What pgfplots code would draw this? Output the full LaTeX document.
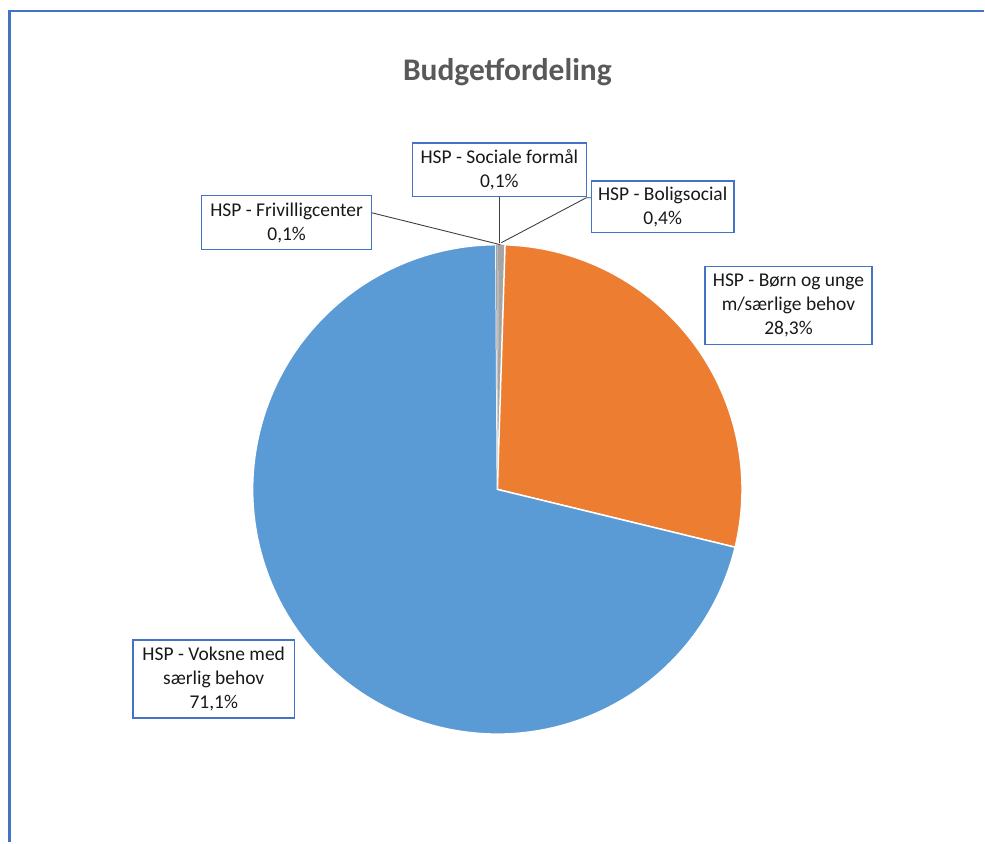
\documentclass[border=0pt]{standalone}
\usepackage{fontspec}
\setmainfont{Carlito}
\usepackage{pgfplots}
\pgfplotsset{compat=1.18}
\usepackage{pgfplotstable}

\definecolor{xlblue}{HTML}{5B9BD5}
\definecolor{xlorange}{HTML}{ED7D31}
\definecolor{xlgray}{HTML}{A5A5A5}
\definecolor{xlframe}{HTML}{4472C4}
\definecolor{titlegray}{HTML}{595959}

% share in percent, clockwise from 12 o'clock
\pgfplotstableread[col sep=comma]{
name,share,colour
Sociale,0.1,xlgray
Boligsocial,0.4,xlgray
Boern,28.3,xlorange
Voksne,71.1,xlblue
Frivillig,0.1,xlgray
}\piedata

\tikzset{lbl/.style={draw=xlframe, line width=1.5bp, fill=white, align=center,
  inner sep=0pt, font=\fontsize{19.5bp}{24bp}\selectfont, text=black!90},
  lead/.style={black!75, line width=0.9bp}}

\begin{document}
\begin{tikzpicture}
\begin{axis}[
  scale only axis, width=985bp, height=843bp,
  xmin=0, xmax=985, ymin=0, ymax=843,
  hide axis, clip=false,
]
% keep the page at the full chart size
\path (axis cs:0,0) rectangle (axis cs:985,843);
\pgfplotsextra{
  \def\angA{90}
  \pgfplotstableforeachcolumnelement{share}\of\piedata\as\share{%
    \pgfplotstablegetelem{\pgfplotstablerow}{colour}\of\piedata
    \let\slicecol\pgfplotsretval
    \pgfmathsetmacro\angB{\angA-3.6*\share}
    \fill[\slicecol] (axis cs:498,353) -- ++(\angA:245bp)
      arc[start angle=\angA, end angle=\angB, radius=245bp] -- cycle;
    \pgfmathparse{\share>1 ? 1 : 0}
    \ifnum\pgfmathresult=1
      \draw[white, line width=1.5bp, line join=round] (axis cs:498,353) -- ++(\angA:245bp)
        arc[start angle=\angA, end angle=\angB, radius=245bp] -- cycle;
    \fi
    \global\let\angA\angB
  }
}
% frame of the chart area
\draw[xlframe, line width=2.5bp] (axis cs:9.5,0) -- (axis cs:9.5,832) -- (axis cs:985,832);
% title
\node[font=\fontsize{31.5bp}{36bp}\selectfont\bfseries, text=titlegray] at (axis cs:508,771) {Budgetfordeling};
% leader lines
\draw[lead] (axis cs:372,630) -- (axis cs:501,598);
\draw[lead] (axis cs:500,646) -- (axis cs:500,600);
\draw[lead] (axis cs:592,645) -- (axis cs:587,645) -- (axis cs:502,600);
% data labels
\node[lbl, minimum width=174bp, minimum height=54bp] at (axis cs:500,673) {HSP - Sociale formål\\0,1\%};
\node[lbl, minimum width=170bp, minimum height=54bp] at (axis cs:287,620) {HSP - Frivilligcenter\\0,1\%};
\node[lbl, minimum width=143bp, minimum height=52bp] at (axis cs:663.5,636) {HSP - Boligsocial\\0,4\%};
\node[lbl, minimum width=167bp, minimum height=78bp] at (axis cs:789.5,537) {HSP - Børn og unge\\m/særlige behov\\28,3\%};
\node[lbl, minimum width=162bp, minimum height=78bp] at (axis cs:214,163) {HSP - Voksne med\\særlig behov\\71,1\%};
\end{axis}
\end{tikzpicture}
\end{document}
